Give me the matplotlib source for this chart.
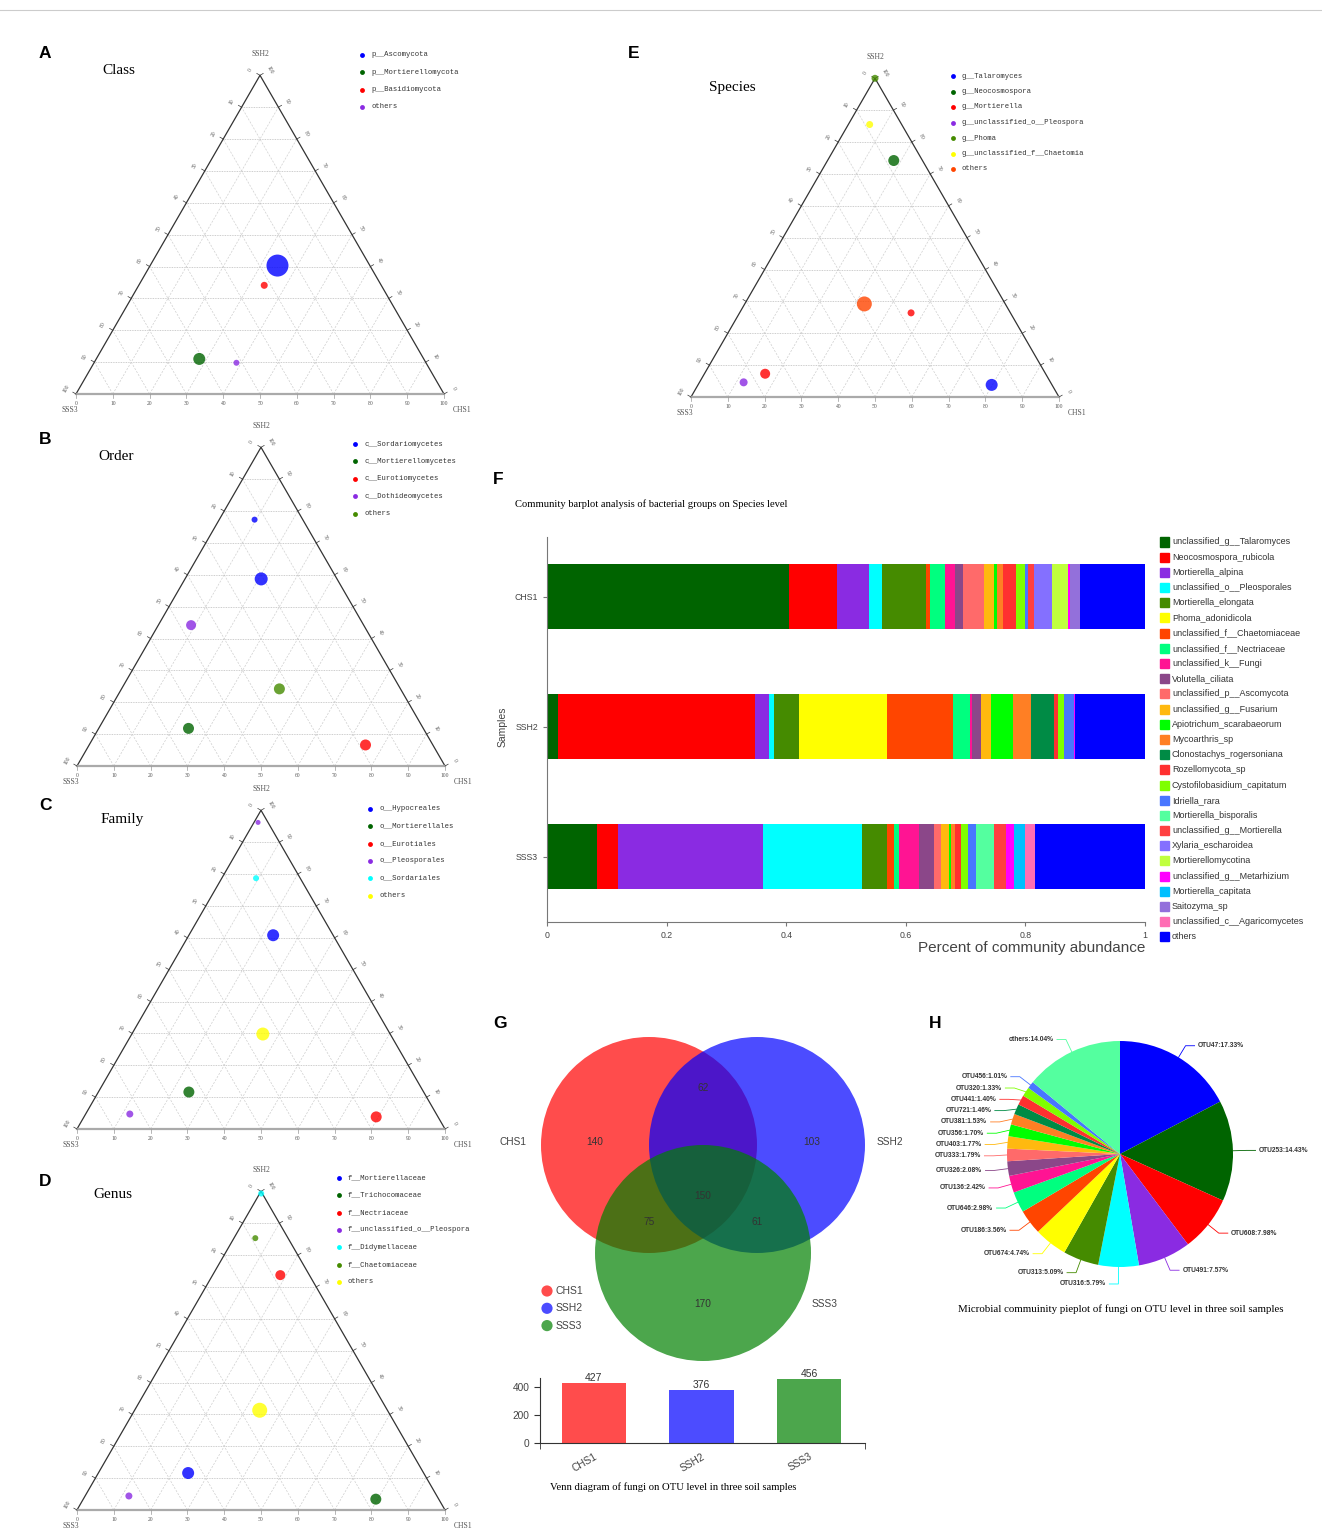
import math

import matplotlib
matplotlib.use("Agg")
import matplotlib.pyplot as plt
import numpy as np
from matplotlib.lines import Line2D
from matplotlib.patches import Circle, Rectangle

W, H = 1322, 1533
SERIF = "Liberation Serif"
SANS = "Liberation Sans"
MONO = "Liberation Mono"
SQ = math.sqrt(3) / 2

# ---- ternary panels: percent of each taxon in CHS1 and SSH2 (SSS3 = rest)
CLASS_TAXA = ["p__Ascomycota", "p__Mortierellomycota", "p__Basidiomycota", "others"]
CLASS_COLORS = ["#0000ff", "#006400", "#ff0000", "#8a2be2"]
CLASS_PT_TAXON = [0, 2, 1, 3]
CLASS_CHS1 = [34.6, 34.1, 28.0, 38.7]
CLASS_SSH2 = [40.3, 34.1, 11.0, 9.8]
CLASS_SIZE = [22, 7, 12, 6]

ORDER_TAXA = ["c__Sordariomycetes", "c__Mortierellomycetes", "c__Eurotiomycetes",
              "c__Dothideomycetes", "others"]
ORDER_COLORS = ["#0000ff", "#006400", "#ff0000", "#8a2be2", "#458b00"]
ORDER_PT_TAXON = [0, 0, 3, 4, 1, 2]
ORDER_CHS1 = [9.6, 20.7, 8.9, 42.9, 24.4, 75.1]
ORDER_SSH2 = [77.3, 58.7, 44.2, 24.2, 11.8, 6.6]
ORDER_SIZE = [6, 13, 10, 11, 11, 11]

FAMILY_TAXA = ["o__Hypocreales", "o__Mortierellales", "o__Eurotiales",
               "o__Pleosporales", "o__Sordariales", "others"]
FAMILY_COLORS = ["#0000ff", "#006400", "#ff0000", "#8a2be2", "#00ffff", "#ffff00"]
FAMILY_PT_TAXON = [3, 4, 0, 5, 1, 3, 2]
FAMILY_CHS1 = [1.1, 9.3, 22.9, 35.6, 24.6, 12.0, 79.4]
FAMILY_SSH2 = [96.2, 78.7, 60.8, 29.8, 11.6, 4.7, 3.8]
FAMILY_SIZE = [5, 6, 12, 13, 11, 7, 11]

GENUS_TAXA = ["f__Mortierellaceae", "f__Trichocomaceae", "f__Nectriaceae",
              "f__unclassified_o__Pleospora", "f__Didymellaceae", "f__Chaetomiaceae", "others"]
GENUS_COLORS = ["#0000ff", "#006400", "#ff0000", "#8a2be2", "#00ffff", "#458b00", "#ffff00"]
GENUS_PT_TAXON = [4, 5, 2, 6, 0, 3, 1]
GENUS_CHS1 = [0.4, 5.8, 18.4, 34.0, 24.4, 11.9, 79.5]
GENUS_SSH2 = [99.3, 85.3, 73.7, 31.3, 11.6, 4.4, 3.4]
GENUS_SIZE = [6, 6, 10, 15, 12, 7, 11]

SPECIES_TAXA = ["g__Talaromyces", "g__Neocosmospora", "g__Mortierella",
                "g__unclassified_o__Pleospora", "g__Phoma", "g__unclassified_f__Chaetomia",
                "others"]
SPECIES_COLORS = ["#0000ff", "#006400", "#ff0000", "#8a2be2", "#458b00", "#ffff00", "#ff4500"]
SPECIES_PT_TAXON = [4, 5, 1, 6, 2, 2, 3, 0]
SPECIES_CHS1 = [0.0, 5.8, 18.0, 32.5, 46.6, 16.5, 12.0, 79.8]
SPECIES_SSH2 = [100.0, 85.5, 74.2, 29.2, 26.4, 7.3, 4.6, 3.8]
SPECIES_SIZE = [7, 7, 11, 15, 7, 10, 8, 12]

# ---- community barplot (species level)
SAMPLES = ["CHS1", "SSH2", "SSS3"]
BAR_SPECIES = [
    "unclassified_g__Talaromyces", "Neocosmospora_rubicola", "Mortierella_alpina",
    "unclassified_o__Pleosporales", "Mortierella_elongata", "Phoma_adonidicola",
    "unclassified_f__Chaetomiaceae", "unclassified_f__Nectriaceae", "unclassified_k__Fungi",
    "Volutella_ciliata", "unclassified_p__Ascomycota", "unclassified_g__Fusarium",
    "Apiotrichum_scarabaeorum", "Mycoarthris_sp", "Clonostachys_rogersoniana",
    "Rozellomycota_sp", "Cystofilobasidium_capitatum", "Idriella_rara",
    "Mortierella_bisporalis", "unclassified_g__Mortierella", "Xylaria_escharoidea",
    "Mortierellomycotina", "unclassified_g__Metarhizium", "Mortierella_capitata",
    "Saitozyma_sp", "unclassified_c__Agaricomycetes", "others",
]
BAR_COLORS = [
    "#006400", "#ff0000", "#8a2be2", "#00ffff", "#458b00", "#ffff00", "#ff4500",
    "#00ff7f", "#ff1493", "#8b4789", "#ff6a6a", "#ffb90f", "#00ff00", "#ff7f24",
    "#008b45", "#ff3030", "#7fff00", "#4876ff", "#54ff9f", "#ff4040", "#8470ff",
    "#c0ff3e", "#ff00ff", "#00bfff", "#9370db", "#ff6eb4", "#0000ff",
]
CHS1_ABUND = [0.405, 0.080, 0.053, 0.023, 0.072, 0.000, 0.008, 0.024, 0.017, 0.014,
              0.035, 0.017, 0.005, 0.010, 0.000, 0.021, 0.015, 0.006, 0.000, 0.010,
              0.029, 0.027, 0.003, 0.000, 0.017, 0.000, 0.109]
SSH2_ABUND = [0.018, 0.330, 0.023, 0.009, 0.041, 0.147, 0.111, 0.028, 0.003, 0.016,
              0.000, 0.016, 0.038, 0.030, 0.038, 0.007, 0.010, 0.016, 0.000, 0.000,
              0.000, 0.000, 0.002, 0.000, 0.000, 0.000, 0.117]
SSS3_ABUND = [0.083, 0.036, 0.243, 0.164, 0.042, 0.000, 0.012, 0.008, 0.034, 0.025,
              0.012, 0.014, 0.003, 0.006, 0.000, 0.010, 0.012, 0.014, 0.029, 0.020,
              0.000, 0.000, 0.014, 0.019, 0.000, 0.016, 0.184]

# ---- venn (OTU level); region keys flag membership in CHS1/SSH2/SSS3
VENN_SETS = ["CHS1", "SSH2", "SSS3"]
VENN_COLORS = ["#ff0000", "#0000ff", "#008000"]
VENN_REGIONS = ["100", "010", "001", "110", "101", "011", "111"]
VENN_COUNTS = [140, 103, 170, 62, 75, 61, 150]

# ---- OTU pie
PIE_OTUS = ["OTU47", "OTU253", "OTU608", "OTU491", "OTU316", "OTU313", "OTU674",
            "OTU186", "OTU646", "OTU136", "OTU326", "OTU333", "OTU403", "OTU356",
            "OTU381", "OTU721", "OTU441", "OTU320", "OTU456", "others"]
PIE_PCT = [17.33, 14.43, 7.98, 7.57, 5.79, 5.09, 4.74, 3.56, 2.98, 2.42, 2.08, 1.79,
           1.77, 1.70, 1.53, 1.46, 1.40, 1.33, 1.01, 14.04]
PIE_COLORS = ["#0000ff", "#006400", "#ff0000", "#8a2be2", "#00ffff", "#458b00", "#ffff00",
              "#ff4500", "#00ff7f", "#ff1493", "#8b4789", "#ff6a6a", "#ffb90f", "#00ff00",
              "#ff7f24", "#008b45", "#ff3030", "#7fff00", "#4876ff", "#54ff9f"]


def fx(x):
    return x / W


def fy(y):
    return 1 - y / H


def px_axes(fig, left, top, right, bottom):
    return fig.add_axes([left / W, 1 - bottom / H, (right - left) / W, (bottom - top) / H])


def panel_letter(fig, x, y, letter):
    fig.text(fx(x), fy(y), letter, fontsize=12.5, weight="bold", family=SANS,
             ha="center", va="center")


def draw_ternary(fig, x0, base, width, title, title_xy, taxa, colors, pt_taxon,
                 chs1, ssh2, size, legend_xy, legend_dy):
    s = width / 100.0
    pad = 30
    apex = base - 100 * SQ * s
    ax = px_axes(fig, x0 - pad, apex - pad, x0 + width + pad, base + pad)
    ax.set_xlim(-pad / s, 100 + pad / s)
    ax.set_ylim(-pad / s, 100 * SQ + pad / s)
    ax.axis("off")

    grid_kw = dict(color="#cfcfcf", lw=0.5, ls=(0, (3, 2)), zorder=1)
    for v in range(10, 100, 10):
        ax.plot([v / 2, 100 - v / 2], [v * SQ, v * SQ], color="#bdbdbd", lw=0.6,
                ls=(0, (1, 1)), zorder=1)
        ax.plot([v, v + (100 - v) / 2], [0, (100 - v) * SQ], **grid_kw)
        ax.plot([100 - v, (100 - v) / 2], [0, (100 - v) * SQ], **grid_kw)

    ax.plot([0, 50, 100], [0, 100 * SQ, 0], color="#333333", lw=0.9, zorder=2)
    ax.plot([0, 100], [0, 0], color="#aaaaaa", lw=1.6, zorder=2)

    tk = dict(fontsize=4.0, color="#555555", family=SERIF, ha="center", va="center")
    nl = np.array([-SQ, 0.5])
    nr = np.array([SQ, 0.5])
    for v in range(0, 101, 10):
        p = np.array([(100 - v) / 2, (100 - v) * SQ])
        q = p + nl * 1.0
        ax.plot([p[0], q[0]], [p[1], q[1]], color="#333333", lw=0.5)
        t = p + nl * 3.0
        ax.text(t[0], t[1], str(v), rotation=60, **tk)
        p = np.array([100 - v / 2, v * SQ])
        q = p + nr * 1.0
        ax.plot([p[0], q[0]], [p[1], q[1]], color="#333333", lw=0.5)
        t = p + nr * 3.0
        ax.text(t[0], t[1], str(v), rotation=-60, **tk)
        ax.plot([v, v], [0, -1.0], color="#999999", lw=0.5)
        ax.text(v, -2.6, str(v), **tk)

    vk = dict(fontsize=5.5, color="#555555", family=SERIF, ha="center", va="center")
    ax.text(50, 100 * SQ + 21 / s, "SSH2", **vk)
    ax.text(-6 / s, -16 / s, "SSS3", **vk)
    ax.text(100 + 18 / s, -16 / s, "CHS1", **vk)

    ch = np.asarray(chs1, float)
    sh = np.asarray(ssh2, float)
    px_, py_ = ch + sh / 2, sh * SQ
    cols = [colors[i] for i in pt_taxon]
    ax.scatter(px_, py_, s=(np.asarray(size) * 0.72) ** 2, c=cols, alpha=0.8,
               edgecolors="none", zorder=3, clip_on=False)

    fig.text(fx(title_xy[0]), fy(title_xy[1]), title, fontsize=11, family=SERIF,
             va="center")
    lx, ly = legend_xy
    for i, (name, col) in enumerate(zip(taxa, colors)):
        yy = ly + i * legend_dy
        fig.add_artist(Line2D([fx(lx)], [fy(yy)], marker="o", ms=3.5, color=col,
                              mec="none", ls="none", transform=fig.transFigure))
        fig.text(fx(lx + 9), fy(yy), name, fontsize=5.2, family=MONO, color="#333333",
                 va="center")


fig = plt.figure(figsize=(W / 100, H / 100), dpi=100)
fig.add_artist(Line2D([0, 1], [fy(10), fy(10)], color="#cccccc", lw=0.8,
                      transform=fig.transFigure))

# ---- A-E ternary plots
draw_ternary(fig, 76, 394, 368, "Class", (102, 70), CLASS_TAXA, CLASS_COLORS,
             CLASS_PT_TAXON, CLASS_CHS1, CLASS_SSH2, CLASS_SIZE, (362, 55), 17.3)
draw_ternary(fig, 77, 766, 368, "Order", (98, 457), ORDER_TAXA, ORDER_COLORS,
             ORDER_PT_TAXON, ORDER_CHS1, ORDER_SSH2, ORDER_SIZE, (355, 444), 17.4)
draw_ternary(fig, 77, 1129, 368, "Family", (101, 819), FAMILY_TAXA, FAMILY_COLORS,
             FAMILY_PT_TAXON, FAMILY_CHS1, FAMILY_SSH2, FAMILY_SIZE, (370, 809), 17.3)
draw_ternary(fig, 77, 1510, 368, "Genus", (93, 1195), GENUS_TAXA, GENUS_COLORS,
             GENUS_PT_TAXON, GENUS_CHS1, GENUS_SSH2, GENUS_SIZE, (339, 1178), 17.3)
draw_ternary(fig, 691, 397, 368, "Species", (709, 87), SPECIES_TAXA, SPECIES_COLORS,
             SPECIES_PT_TAXON, SPECIES_CHS1, SPECIES_SSH2, SPECIES_SIZE, (953, 76), 15.5)
for x, y, letter in [(45, 54, "A"), (45, 440, "B"), (45, 806, "C"), (45, 1182, "D"),
                     (634, 54, "E")]:
    panel_letter(fig, x, y, letter)

# ---- F stacked community barplot
panel_letter(fig, 498, 480, "F")
fig.text(fx(515), fy(504), "Community barplot analysis of bacterial groups on Species level",
         fontsize=7.6, family=SERIF, va="center")
ax = px_axes(fig, 547, 537, 1145, 922)
abund = np.array([CHS1_ABUND, SSH2_ABUND, SSS3_ABUND])
left = np.zeros(len(SAMPLES))
for j, col in enumerate(BAR_COLORS):
    ax.barh(np.arange(len(SAMPLES)), abund[:, j], left=left, height=0.5, color=col,
            linewidth=0)
    left += abund[:, j]
ax.set_xlim(0, 1)
ax.set_ylim(2.5, -0.4615)
ax.set_yticks(range(len(SAMPLES)), SAMPLES)
ax.set_xticks([0, 0.2, 0.4, 0.6, 0.8, 1.0], ["0", "0.2", "0.4", "0.6", "0.8", "1"])
for side in ("top", "right"):
    ax.spines[side].set_visible(False)
for side in ("left", "bottom"):
    ax.spines[side].set_color("#777777")
    ax.spines[side].set_linewidth(0.8)
ax.tick_params(colors="#777777", labelcolor="#444444", labelsize=6.3, length=3, width=0.8)
for lab in ax.get_yticklabels() + ax.get_xticklabels():
    lab.set_family(SANS)
fig.text(fx(503), fy(727), "Samples", rotation=90, fontsize=7.5, family=SANS,
         color="#444444", ha="center", va="center")
fig.text(fx(1145), fy(948), "Percent of community abundance", fontsize=11, family=SANS,
         color="#444444", ha="right", va="center")
for i, (name, col) in enumerate(zip(BAR_SPECIES, BAR_COLORS)):
    yy = 542 + i * 15.19
    fig.add_artist(Rectangle((fx(1160), fy(yy + 4.5)), 9 / W, 9 / H, color=col,
                             transform=fig.transFigure))
    fig.text(fx(1172), fy(yy), name, fontsize=6.5, family=SANS, color="#333333",
             va="center")

# ---- G venn diagram + set sizes
panel_letter(fig, 500, 1023, "G")
vax = px_axes(fig, 490, 1010, 920, 1375)
vax.set_xlim(490, 920)
vax.set_ylim(1375, 1010)
vax.axis("off")
centers = [(649, 1145), (757, 1145), (703, 1253)]
for (cx, cy), col in zip(centers, VENN_COLORS):
    vax.add_patch(Circle((cx, cy), 108, facecolor=col, alpha=0.7, edgecolor="none"))
region_xy = [(595, 1142), (812, 1142), (703, 1304), (703, 1088), (649, 1222),
             (757, 1222), (703, 1196)]
for (x, y), n in zip(region_xy, VENN_COUNTS):
    vax.text(x, y, str(n), fontsize=7.3, family=SANS, color="#333333",
             ha="center", va="center")
for (x, y), name in zip([(513, 1142), (890, 1142), (825, 1304)], VENN_SETS):
    vax.text(x, y, name, fontsize=7.3, family=SANS, color="#444444",
             ha="center", va="center")
for i, (name, col) in enumerate(zip(VENN_SETS, VENN_COLORS)):
    yy = 1291 + i * 17.3
    vax.add_patch(Circle((547, yy), 5.6, facecolor=col, alpha=0.7, edgecolor="none"))
    vax.text(556, yy, name, fontsize=7.5, family=SANS, color="#444444", va="center")

totals = [sum(n for key, n in zip(VENN_REGIONS, VENN_COUNTS) if key[k] == "1")
          for k in range(len(VENN_SETS))]
bax = px_axes(fig, 540, 1378, 865, 1443)
bars = bax.bar(range(len(VENN_SETS)), totals, width=0.6, color=VENN_COLORS, alpha=0.7,
               linewidth=0)
for b, t in zip(bars, totals):
    bax.text(b.get_x() + b.get_width() / 2, t, str(t), fontsize=7.5, family=SANS,
             color="#333333", ha="center", va="bottom")
bax.set_xlim(-0.5, 2.52)
bax.set_ylim(0, 465)
bax.set_yticks([0, 200, 400])
bax.set_xticks(range(len(VENN_SETS)), VENN_SETS, rotation=30, ha="right",
               rotation_mode="anchor")
bax.set_xticks([-0.5, 2.52], minor=True)
bax.tick_params(axis="x", which="major", length=0, pad=6)
bax.tick_params(axis="x", which="minor", length=4, color="#333333")
bax.tick_params(axis="y", length=4, color="#333333")
bax.tick_params(labelsize=7.3, labelcolor="#444444")
for lab in bax.get_yticklabels() + bax.get_xticklabels():
    lab.set_family(SANS)
for side in ("top", "right"):
    bax.spines[side].set_visible(False)
for side in ("left", "bottom"):
    bax.spines[side].set_color("#333333")
fig.text(fx(550), fy(1487), "Venn diagram of fungi on OTU level in three soil samples",
         fontsize=7.7, family=SERIF, va="center")

# ---- H OTU pie
panel_letter(fig, 935, 1023, "H")
R, PCX, PCY = 113.0, 1120.0, 1154.0
pax = px_axes(fig, 925, 1025, 1320, 1300)
pax.pie(PIE_PCT, colors=PIE_COLORS, startangle=90, counterclock=False, radius=1,
        wedgeprops=dict(linewidth=0))
pax.set_xlim((925 - PCX) / R, (1320 - PCX) / R)
pax.set_ylim((PCY - 1300) / R, (PCY - 1025) / R)

pct = np.asarray(PIE_PCT)
mid = (np.cumsum(pct) - pct / 2) / pct.sum() * 360
ang = np.deg2rad(90 - mid)
ex, ey = 1.12 * np.cos(ang), 1.12 * np.sin(ang)
left_side = np.where(np.cos(ang) < 0)[0]
prev = None
for k in left_side[np.argsort(-ey[left_side])]:
    if prev is not None and ey[k] > prev - 0.1:
        ey[k] = prev - 0.1
    prev = ey[k]
for k, (name, p, col) in enumerate(zip(PIE_OTUS, PIE_PCT, PIE_COLORS)):
    sgn = -1 if np.cos(ang[k]) < 0 else 1
    x1, y1 = np.cos(ang[k]), np.sin(ang[k])
    x3 = ex[k] + sgn * 0.08
    pax.plot([x1, ex[k], x3], [y1, ey[k], ey[k]], color=col, lw=0.6, clip_on=False)
    pax.text(x3 + sgn * 0.03, ey[k], f"{name}:{p:.2f}%", fontsize=4.8, weight="bold",
             family=SANS, color="#333333", va="center",
             ha="right" if sgn < 0 else "left")
fig.text(fx(1121), fy(1309),
         "Microbial commuinity pieplot of fungi on OTU level in three soil samples",
         fontsize=7.8, family=SERIF, ha="center", va="center")

fig.savefig("out.png", dpi=100)
